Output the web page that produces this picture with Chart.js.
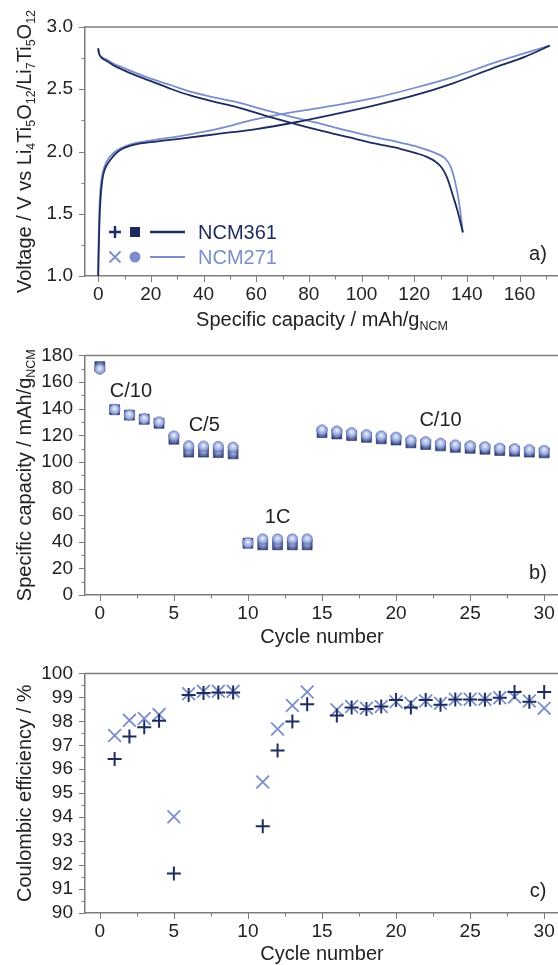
<!DOCTYPE html>
<html>
<head>
<meta charset="utf-8">
<script src="https://cdn.jsdelivr.net/npm/chart.js@4.4.1/dist/chart.umd.min.js"></script>
<style>
  html, body { margin: 0; padding: 0; background: #fff; overflow: hidden; width: 558px; height: 965px; }
  canvas { position: absolute; left: 0; }
</style>
</head>
<body>
<canvas id="voltageChart" width="570" height="336" style="top:0"></canvas>
<canvas id="capacityChart" width="570" height="320" style="top:332px"></canvas>
<canvas id="efficiencyChart" width="570" height="315" style="top:650px"></canvas>
<script>
// ---- panel a) voltage profiles ----
const chargeCap361 = [0, 0.3, 0.6, 0.9, 1.4, 2.0, 3.0, 4.5, 6.5, 9, 12, 16, 22, 30, 45, 60, 75, 90, 105, 120, 135, 150, 162, 171.5];
const chargeV361   = [1.0, 1.3, 1.5, 1.62, 1.74, 1.82, 1.88, 1.93, 1.98, 2.02, 2.045, 2.065, 2.08, 2.10, 2.14, 2.18, 2.235, 2.30, 2.37, 2.45, 2.55, 2.67, 2.76, 2.85];
const chargeCap271 = [0, 0.2, 0.5, 0.8, 1.3, 2.0, 3.0, 4.5, 6.5, 9, 12, 16, 22, 30, 45, 60, 75, 90, 105, 120, 135, 150, 162, 171.5];
const chargeV271   = [1.0, 1.3, 1.55, 1.68, 1.78, 1.85, 1.91, 1.96, 2.0, 2.03, 2.055, 2.075, 2.095, 2.12, 2.18, 2.26, 2.32, 2.37, 2.43, 2.51, 2.60, 2.71, 2.79, 2.85];
const dischCap361  = [0, 0.3, 1, 3, 6, 10, 15, 20, 28, 35, 45, 52, 64, 75, 85, 95, 105, 115, 121, 125, 128, 130.5, 132.5, 134.5, 136.5, 138.5];
const dischV361    = [2.83, 2.79, 2.76, 2.73, 2.69, 2.65, 2.605, 2.565, 2.50, 2.45, 2.395, 2.36, 2.285, 2.22, 2.165, 2.115, 2.065, 2.02, 1.985, 1.955, 1.92, 1.87, 1.79, 1.66, 1.52, 1.35];
const dischCap271  = [0, 0.3, 1, 3, 6, 10, 15, 20, 28, 35, 45, 52, 64, 75, 85, 95, 105, 115, 121, 126, 129.5, 132, 134, 135.5, 137, 138.5];
const dischV271    = [2.82, 2.79, 2.765, 2.74, 2.705, 2.67, 2.625, 2.585, 2.53, 2.48, 2.43, 2.40, 2.33, 2.27, 2.22, 2.165, 2.115, 2.07, 2.04, 2.005, 1.975, 1.94, 1.87, 1.76, 1.60, 1.35];
const capTicks = [0, 20, 40, 60, 80, 100, 120, 140, 160];
const voltTicks = [1.0, 1.5, 2.0, 2.5, 3.0];

// ---- panel b) rate capability ----
const cycles = [0, 1, 2, 3, 4, 5, 6, 7, 8, 9, 10, 11, 12, 13, 14, 15, 16, 17, 18, 19, 20, 21, 22, 23, 24, 25, 26, 27, 28, 29, 30];
const capacity361 = [171.6, 139.2, 135.1, 132.0, 129.0, 117.0, 107.3, 107.3, 107.0, 106.0, 38.9, 37.7, 37.7, 37.7, 37.7,
  122.0, 121.0, 119.8, 118.4, 117.3, 116.4, 114.3, 113.1, 112.0, 110.9, 110.2, 109.5, 108.6, 108.0, 107.3, 106.8];
const capacity271 = [169.7, 139.5, 135.3, 132.5, 130.0, 119.5, 112.0, 111.8, 111.5, 111.0, 39.2, 42.0, 42.0, 42.0, 42.0,
  124.0, 123.1, 121.9, 120.4, 119.4, 118.5, 116.3, 115.1, 113.9, 112.7, 112.0, 111.3, 110.3, 109.8, 109.1, 108.6];
const cycleTicks = [0, 5, 10, 15, 20, 25, 30];
const capacityTicks = [0, 20, 40, 60, 80, 100, 120, 140, 160, 180];

// ---- panel c) coulombic efficiency ----
const ceCycles = [1, 2, 3, 4, 5, 6, 7, 8, 9, 11, 12, 13, 14, 16, 17, 18, 19, 20, 21, 22, 23, 24, 25, 26, 27, 28, 29, 30];
const ce361 = [96.43, 97.37, 97.75, 98.02, 91.65, 99.10, 99.18, 99.20, 99.20, 93.62, 96.78, 97.99, 98.71,
  98.24, 98.58, 98.51, 98.62, 98.89, 98.58, 98.89, 98.69, 98.91, 98.91, 98.90, 98.98, 99.22, 98.82, 99.22];
const ce271 = [97.41, 98.04, 98.12, 98.28, 94.02, 99.15, 99.25, 99.25, 99.25, 95.47, 97.68, 98.66, 99.22,
  98.48, 98.62, 98.55, 98.62, 98.82, 98.75, 98.85, 98.75, 98.92, 98.92, 98.92, 98.98, 99.02, 98.85, 98.55];
const ceTicks = [90, 91, 92, 93, 94, 95, 96, 97, 98, 99, 100];

const DARK = '#1d2b5f';
const LIGHT = '#7a8ecb';
const AXIS = '#7c7c7c';
const TEXT = '#222';
const FONT = '"Liberation Sans", Arial, sans-serif';

const toXY = (xs, ys) => xs.map((x, i) => ({ x: x, y: ys[i] }));
const range = (a, b, s) => { const out = []; for (let v = a; v <= b + 1e-9; v += s) out.push(+v.toFixed(3)); return out; };

// text with subscripts, centred on (x, y) baseline, optionally rotated
function richText(ctx, parts, x, y, rotate) {
  ctx.save();
  ctx.translate(x, y);
  if (rotate) ctx.rotate(-Math.PI / 2);
  ctx.fillStyle = TEXT;
  ctx.textAlign = 'left';
  ctx.textBaseline = 'alphabetic';
  const fontOf = sub => sub ? '12.5px ' + FONT : '20px ' + FONT;
  let total = 0;
  parts.forEach(([t, sub]) => { ctx.font = fontOf(sub); total += ctx.measureText(t).width; });
  let cx = -total / 2;
  parts.forEach(([t, sub]) => {
    ctx.font = fontOf(sub);
    ctx.fillText(t, cx, sub ? 4 : 0);
    cx += ctx.measureText(t).width;
  });
  ctx.restore();
}

function label(ctx, text, x, y, color, size) {
  ctx.save();
  ctx.font = (size || 20) + 'px ' + FONT;
  ctx.fillStyle = color || TEXT;
  ctx.textAlign = 'center';
  ctx.textBaseline = 'middle';
  ctx.fillText(text, x, y);
  ctx.restore();
}

// axis ticks, top frame line, titles and free text
function decor(cfg) {
  return {
    id: 'decor',
    afterDraw(chart) {
      const { ctx, chartArea: a, scales: { x, y } } = chart;
      ctx.save();
      ctx.strokeStyle = AXIS;
      ctx.lineWidth = 1;
      ctx.beginPath();
      const xt = (vals, len) => vals.forEach(v => {
        const p = Math.round(x.getPixelForValue(v)) + 0.5;
        ctx.moveTo(p, a.bottom); ctx.lineTo(p, a.bottom + len);
      });
      const yt = (vals, len) => vals.forEach(v => {
        const p = Math.round(y.getPixelForValue(v)) + 0.5;
        ctx.moveTo(a.left, p); ctx.lineTo(a.left - len, p);
      });
      xt(cfg.xMajor, 6); xt(cfg.xMinor, 3.5);
      yt(cfg.yMajor, 6); yt(cfg.yMinor, 3.5);
      ctx.stroke();
      ctx.lineWidth = 1.5;
      ctx.beginPath();
      ctx.moveTo(a.left, a.top); ctx.lineTo(a.right, a.top);
      ctx.stroke();
      ctx.restore();
      richText(ctx, cfg.xTitle, (a.left + a.right) / 2, cfg.xTitleY, false);
      richText(ctx, cfg.yTitle, 31, (a.top + a.bottom) / 2, true);
      label(ctx, cfg.tag, a.left + 453, a.bottom - 22);
      if (cfg.extra) cfg.extra(ctx, chart);
    }
  };
}

function scales(xMin, xMax, xTicks, yMin, yMax, yTicks, yFmt, xAxisHeight) {
  const tickFont = { family: FONT, size: 19 };
  return {
    x: {
      type: 'linear', min: xMin, max: xMax,
      afterBuildTicks: s => { s.ticks = xTicks.map(v => ({ value: v })); },
      afterFit: s => { s.height = xAxisHeight; },
      ticks: { color: TEXT, font: tickFont, padding: 7, autoSkip: false, maxRotation: 0, callback: v => String(v) },
      grid: { display: true, drawOnChartArea: false, drawTicks: false },
      border: { color: AXIS, width: 1.5 }
    },
    y: {
      type: 'linear', min: yMin, max: yMax,
      afterBuildTicks: s => { s.ticks = yTicks.map(v => ({ value: v })); },
      afterFit: s => { s.width = 85; },
      ticks: { color: TEXT, font: tickFont, padding: 12, autoSkip: false, callback: yFmt },
      grid: { display: true, drawOnChartArea: false, drawTicks: false },
      border: { color: AXIS, width: 1.5 }
    }
  };
}

const baseOptions = (top, sc) => ({
  responsive: false,
  animation: false,
  layout: { padding: { top: top, right: 11, left: 0, bottom: 0 } },
  plugins: { legend: { display: false }, tooltip: { enabled: false } },
  scales: sc
});

// shaded "bead" fill for the rate-test symbols
function bead(inner, outer, r) {
  return (c) => {
    if (c.type !== 'data' || !c.parsed) return outer;
    const px = c.chart.scales.x.getPixelForValue(c.parsed.x);
    const py = c.chart.scales.y.getPixelForValue(c.parsed.y);
    if (!isFinite(px) || !isFinite(py)) return outer;
    const g = c.chart.ctx.createRadialGradient(px, py - 1, 0.5, px, py, r);
    g.addColorStop(0, inner);
    g.addColorStop(1, outer);
    return g;
  };
}

// ---- chart a ----
const lineDs = (label, xs, ys, color) => ({
  label: label, data: toXY(xs, ys), showLine: true, borderColor: color, borderWidth: 1.8,
  pointRadius: 0, cubicInterpolationMode: 'monotone', fill: false
});

new Chart(document.getElementById('voltageChart'), {
  type: 'scatter',
  data: {
    datasets: [
      lineDs('NCM361 charge', chargeCap361, chargeV361, DARK),
      lineDs('NCM361 discharge', dischCap361, dischV361, DARK),
      lineDs('NCM271 charge', chargeCap271, chargeV271, LIGHT),
      lineDs('NCM271 discharge', dischCap271, dischV271, LIGHT)
    ]
  },
  options: baseOptions(27, scales(-5, 175, capTicks, 1, 3, voltTicks, v => v.toFixed(1), 60)),
  plugins: [decor({
    xMajor: capTicks, xMinor: range(10, 170, 20),
    yMajor: voltTicks, yMinor: range(1.25, 2.75, 0.5),
    xTitle: [['Specific capacity / mAh/g'], ['NCM', 1]], xTitleY: 326,
    yTitle: [['Voltage / V vs Li'], ['4', 1], ['Ti'], ['5', 1], ['O'], ['12', 1], ['/Li'], ['7', 1], ['Ti'], ['5', 1], ['O'], ['12', 1]],
    tag: 'a)',
    extra: (ctx) => {
      // legend
      ctx.save();
      ctx.strokeStyle = DARK; ctx.fillStyle = DARK; ctx.lineWidth = 2.4;
      ctx.beginPath();
      ctx.moveTo(109, 232); ctx.lineTo(121, 232); ctx.moveTo(115, 226); ctx.lineTo(115, 238);
      ctx.moveTo(150, 232); ctx.lineTo(185, 232);
      ctx.stroke();
      ctx.fillRect(130, 227, 10, 10);
      ctx.strokeStyle = LIGHT; ctx.fillStyle = LIGHT; ctx.lineWidth = 1.8;
      ctx.beginPath();
      ctx.moveTo(109.5, 251.5); ctx.lineTo(120.5, 262.5); ctx.moveTo(120.5, 251.5); ctx.lineTo(109.5, 262.5);
      ctx.moveTo(150, 257); ctx.lineTo(185, 257);
      ctx.stroke();
      ctx.beginPath(); ctx.arc(135, 257, 5.5, 0, Math.PI * 2); ctx.fill();
      ctx.font = '20px ' + FONT; ctx.textBaseline = 'middle'; ctx.textAlign = 'left';
      ctx.fillStyle = DARK; ctx.fillText('NCM361', 198, 233);
      ctx.fillStyle = LIGHT; ctx.fillText('NCM271', 198, 258);
      ctx.restore();
    }
  })]
});

// ---- chart b ----
new Chart(document.getElementById('capacityChart'), {
  type: 'scatter',
  data: {
    datasets: [
      { label: 'NCM271', data: toXY(cycles, capacity271), pointStyle: 'circle', pointRadius: 5.3,
        backgroundColor: bead('#e4ebff', '#6c81c3', 6), borderColor: '#6478bb', borderWidth: 0.6, order: 0 },
      { label: 'NCM361', data: toXY(cycles, capacity361), pointStyle: 'rect', pointRadius: 7,
        backgroundColor: bead('#a9b9e6', '#1c2a62', 7), borderColor: '#1c2a62', borderWidth: 0.6, order: 1 }
    ]
  },
  options: baseOptions(13, scales(-1, 31, cycleTicks, 0, 180, capacityTicks, v => String(v), 57)),
  plugins: [decor({
    xMajor: cycleTicks, xMinor: range(2.5, 27.5, 5),
    yMajor: capacityTicks, yMinor: range(10, 170, 20),
    xTitle: [['Cycle number']], xTitleY: 311,
    yTitle: [['Specific capacity / mAh/g'], ['NCM', 1]],
    tag: 'b)',
    extra: (ctx, chart) => {
      const { x, y } = chart.scales;
      label(ctx, 'C/10', x.getPixelForValue(2.1), y.getPixelForValue(153));
      label(ctx, 'C/5', x.getPixelForValue(7.05), y.getPixelForValue(127.4));
      label(ctx, '1C', x.getPixelForValue(12.0), y.getPixelForValue(58.3));
      label(ctx, 'C/10', x.getPixelForValue(23.0), y.getPixelForValue(131));
    }
  })]
});

// ---- chart c ----
new Chart(document.getElementById('efficiencyChart'), {
  type: 'scatter',
  data: {
    datasets: [
      { label: 'NCM361', data: toXY(ceCycles, ce361), pointStyle: 'cross', pointRadius: 7,
        borderColor: DARK, borderWidth: 2, order: 0 },
      { label: 'NCM271', data: toXY(ceCycles, ce271), pointStyle: 'crossRot', pointRadius: 9,
        borderColor: LIGHT, borderWidth: 1.8, order: 1 }
    ]
  },
  options: baseOptions(14, scales(-1, 31, cycleTicks, 90, 100, ceTicks, v => String(v), 52)),
  plugins: [decor({
    xMajor: cycleTicks, xMinor: range(2.5, 27.5, 5),
    yMajor: ceTicks, yMinor: range(90.5, 99.5, 1),
    xTitle: [['Cycle number']], xTitleY: 310,
    yTitle: [['Coulombic efficiency / %']],
    tag: 'c)'
  })]
});
</script>
</body>
</html>
